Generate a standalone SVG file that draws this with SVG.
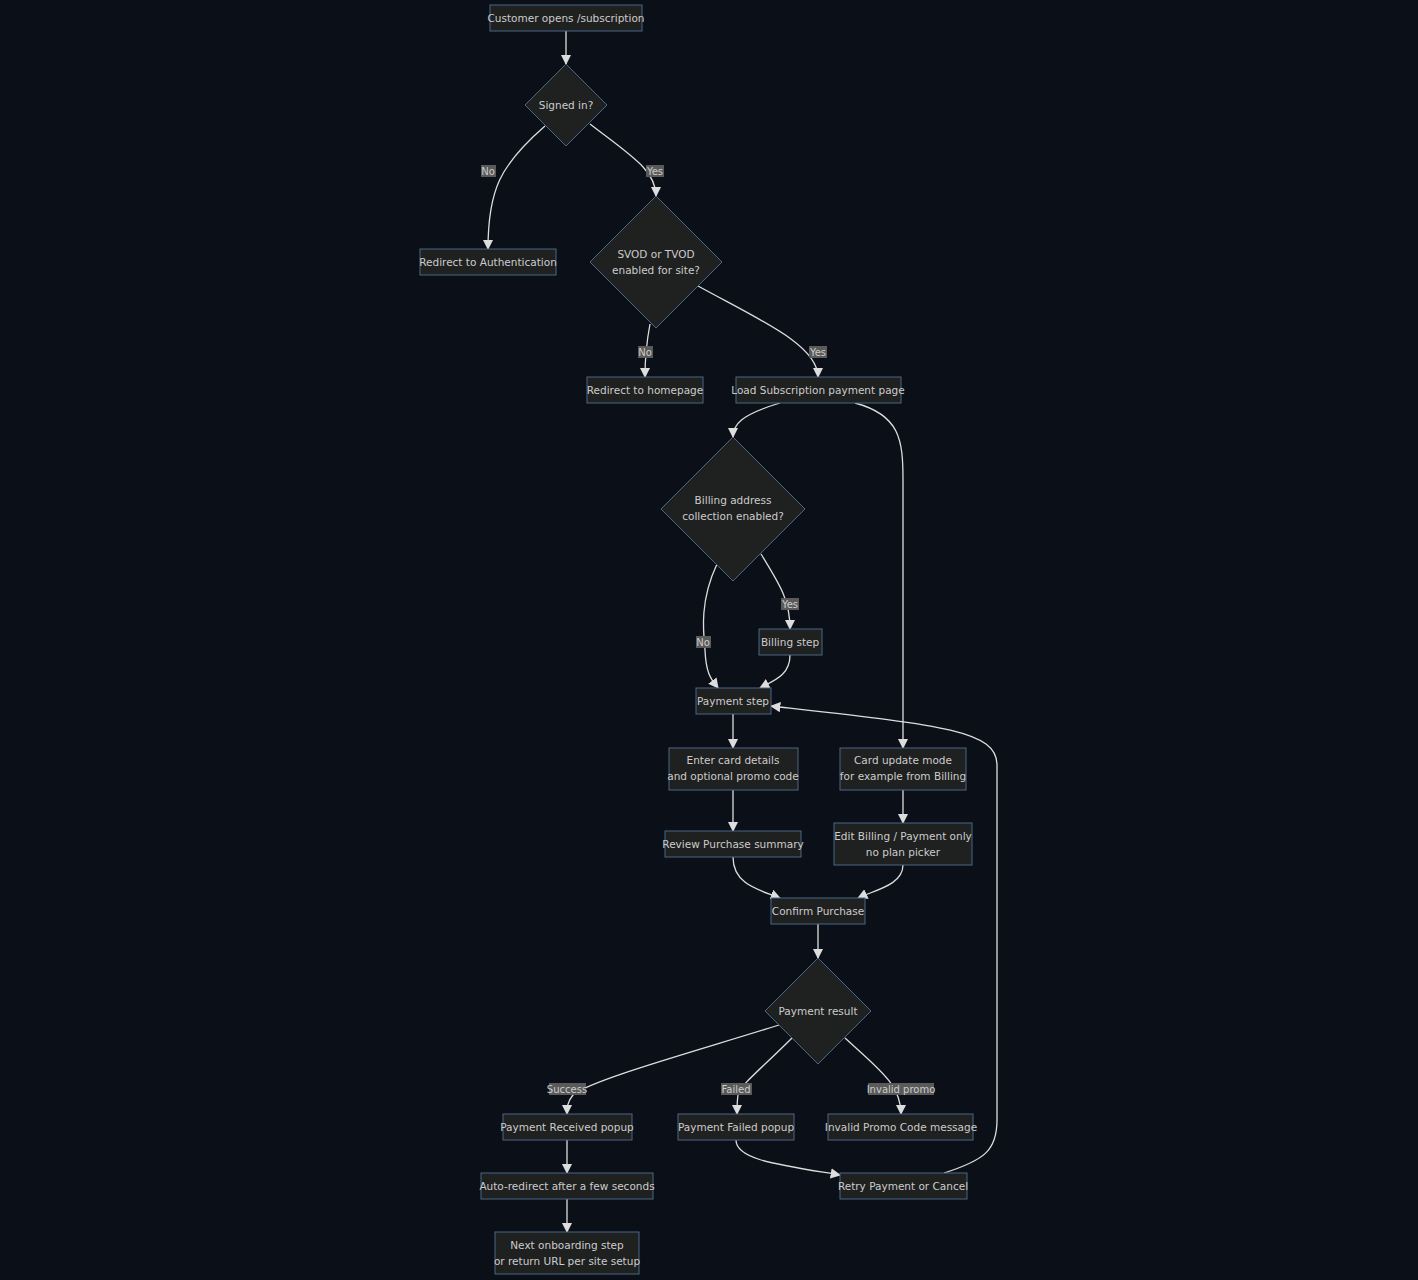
<svg xmlns="http://www.w3.org/2000/svg" width="1418" height="1280" viewBox="0 0 1418 1280">
<defs>
<style>
.n{fill:#1f2020;stroke:#4a6785;stroke-width:1}
.t{font-family:"DejaVu Sans",sans-serif;font-size:10.5px;fill:#ccc;text-anchor:middle;dominant-baseline:central}
.e{fill:none;stroke:#ddd;stroke-width:1.3;marker-end:url(#a)}
.lb{fill:#5a5a5a}
.lt{font-family:"DejaVu Sans",sans-serif;font-size:10px;fill:#ccc;text-anchor:middle;dominant-baseline:central}
</style>
<marker id="a" viewBox="0 0 10 10" refX="9" refY="5" markerWidth="8" markerHeight="8" orient="auto-start-reverse"><path d="M0,0L10,5L0,10z" fill="#ddd"/></marker>
</defs>
<rect width="1418" height="1280" fill="#0b1018"/>
<g id="connectors">
<path class="e" d="M566,31V64"/>
<path class="e" d="M545,126C500,165 488,190 488,249"/>
<path class="e" d="M590,124C630,155 656,170 656,196"/>
<path class="e" d="M650,324C646,345 645,360 645,377"/>
<path class="e" d="M698,286C760,320 818,345 818,377"/>
<path class="e" d="M780,403C740,415 733,425 733,437"/>
<path class="e" d="M855,403C900,415 903,440 903,480V748"/>
<path class="e" d="M717,564C700,600 703,630 705,650C706,675 712,680 718,688"/>
<path class="e" d="M761,554C780,585 790,600 790,629"/>
<path class="e" d="M790,655C790,675 775,680 760,688"/>
<path class="e" d="M733,714V748"/>
<path class="e" d="M903,790V823"/>
<path class="e" d="M733,790V831"/>
<path class="e" d="M733,857C733,885 760,890 780,898"/>
<path class="e" d="M903,865C903,885 875,890 858,898"/>
<path class="e" d="M818,924V958"/>
<path class="e" d="M779,1025C700,1050 590,1080 573,1095C567,1102 567,1108 567,1114"/>
<path class="e" d="M792,1038C760,1070 740,1085 738,1095C737,1102 737,1108 737,1114"/>
<path class="e" d="M845,1038C880,1070 901,1085 901,1114"/>
<path class="e" d="M567,1140V1173"/>
<path class="e" d="M567,1199V1232"/>
<path class="e" d="M736,1140C736,1160 780,1165 840,1175"/>
<path class="e" d="M944,1173C985,1160 997,1150 997,1120V765C997,730 940,725 771,706"/>
</g>
<g id="labels">
<rect class="lb" x="481" y="165" width="15" height="12"/><text class="lt" x="488" y="171">No</text>
<rect class="lb" x="646" y="165" width="18" height="12"/><text class="lt" x="655" y="171">Yes</text>
<rect class="lb" x="638" y="346" width="15" height="12"/><text class="lt" x="645" y="352">No</text>
<rect class="lb" x="809" y="346" width="18" height="12"/><text class="lt" x="818" y="352">Yes</text>
<rect class="lb" x="781" y="598" width="18" height="12"/><text class="lt" x="790" y="604">Yes</text>
<rect class="lb" x="696" y="636" width="15" height="12"/><text class="lt" x="703" y="642">No</text>
<rect class="lb" x="549" y="1083" width="37" height="12"/><text class="lt" x="567" y="1089">Success</text>
<rect class="lb" x="721" y="1083" width="31" height="12"/><text class="lt" x="736" y="1089">Failed</text>
<rect class="lb" x="868" y="1083" width="66" height="12"/><text class="lt" x="901" y="1089">Invalid promo</text>
</g>
<g id="n1"><rect class="n" x="490" y="5" width="152" height="26"/><text class="t" x="566" y="18">Customer opens /subscription</text></g>
<g id="n2"><polygon class="n" points="566,64 607,105 566,146 525,105"/><text class="t" x="566" y="105">Signed in?</text></g>
<g id="n3"><rect class="n" x="420" y="249" width="136" height="26"/><text class="t" x="488" y="262">Redirect to Authentication</text></g>
<g id="n4"><polygon class="n" points="656,196 722,262 656,328 590,262"/><text class="t" x="656" y="254">SVOD or TVOD</text><text class="t" x="656" y="270">enabled for site?</text></g>
<g id="n5"><rect class="n" x="587" y="377" width="116" height="26"/><text class="t" x="645" y="390">Redirect to homepage</text></g>
<g id="n6"><rect class="n" x="736" y="377" width="165" height="26"/><text class="t" x="818" y="390">Load Subscription payment page</text></g>
<g id="n7"><polygon class="n" points="733,437 805,509 733,581 661,509"/><text class="t" x="733" y="500">Billing address</text><text class="t" x="733" y="516">collection enabled?</text></g>
<g id="n8"><rect class="n" x="759" y="629" width="63" height="26"/><text class="t" x="790" y="642">Billing step</text></g>
<g id="n9"><rect class="n" x="696" y="688" width="75" height="26"/><text class="t" x="733" y="701">Payment step</text></g>
<g id="n10"><rect class="n" x="669" y="748" width="129" height="42"/><text class="t" x="733" y="760">Enter card details</text><text class="t" x="733" y="776">and optional promo code</text></g>
<g id="n11"><rect class="n" x="840" y="748" width="126" height="42"/><text class="t" x="903" y="760">Card update mode</text><text class="t" x="903" y="776">for example from Billing</text></g>
<g id="n12"><rect class="n" x="665" y="831" width="136" height="26"/><text class="t" x="733" y="844">Review Purchase summary</text></g>
<g id="n13"><rect class="n" x="834" y="823" width="138" height="42"/><text class="t" x="903" y="836">Edit Billing / Payment only</text><text class="t" x="903" y="852">no plan picker</text></g>
<g id="n14"><rect class="n" x="771" y="898" width="94" height="26"/><text class="t" x="818" y="911">Confirm Purchase</text></g>
<g id="n15"><polygon class="n" points="818,958 871,1011 818,1064 765,1011"/><text class="t" x="818" y="1011">Payment result</text></g>
<g id="n16"><rect class="n" x="503" y="1114" width="129" height="26"/><text class="t" x="567" y="1127">Payment Received popup</text></g>
<g id="n17"><rect class="n" x="678" y="1114" width="116" height="26"/><text class="t" x="736" y="1127">Payment Failed popup</text></g>
<g id="n18"><rect class="n" x="828" y="1114" width="145" height="26"/><text class="t" x="901" y="1127">Invalid Promo Code message</text></g>
<g id="n19"><rect class="n" x="481" y="1173" width="172" height="26"/><text class="t" x="567" y="1186">Auto-redirect after a few seconds</text></g>
<g id="n20"><rect class="n" x="840" y="1173" width="127" height="26"/><text class="t" x="903" y="1186">Retry Payment or Cancel</text></g>
<g id="n21"><rect class="n" x="495" y="1232" width="144" height="42"/><text class="t" x="567" y="1245">Next onboarding step</text><text class="t" x="567" y="1261">or return URL per site setup</text></g>
</svg>
